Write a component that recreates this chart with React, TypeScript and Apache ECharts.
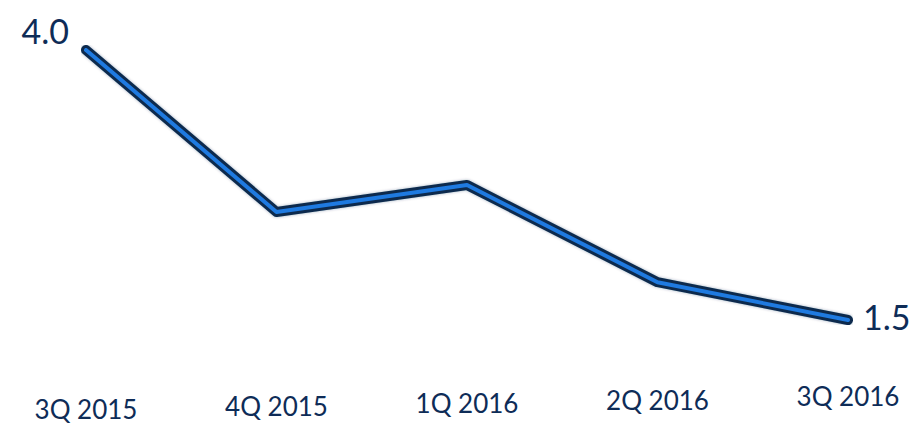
import React, { useEffect, useRef } from "react";
import * as echarts from "echarts";

const categories = ["3Q 2015", "4Q 2015", "1Q 2016", "2Q 2016", "3Q 2016"];
const values = [4.0, 2.5, 2.75, 1.85, 1.5];
const labelOffsets = [26, 20, 14, 7, 0];

export default function App() {
  const ref = useRef<HTMLDivElement>(null);
  useEffect(() => {
    if (!ref.current) return;
    const chart = echarts.init(ref.current, null, { renderer: "svg" });
    const navy = "#0e2c57";
    const font = "Lato, 'Open Sans', sans-serif";
    const rich: Record<string, any> = {};
    labelOffsets.forEach((o, i) => {
      rich["r" + i] = {
        fontSize: 26,
        lineHeight: 26,
        fontFamily: font,
        color: navy,
        padding: [o, 0, 0, 0],
      };
    });
    const last = values.length - 1;
    const labeled = values.map((v, i) => {
      if (i === 0) {
        return {
          value: v,
          label: {
            show: true,
            position: "left",
            offset: [-12, -20],
            formatter: (p: any) => Number(p.value).toFixed(1),
            fontSize: 34,
            fontFamily: font,
            color: navy,
          },
        };
      }
      if (i === last) {
        return {
          value: v,
          label: {
            show: true,
            position: "right",
            offset: [10, -4],
            formatter: (p: any) => Number(p.value).toFixed(1),
            fontSize: 34,
            fontFamily: font,
            color: navy,
          },
        };
      }
      return v;
    });
    chart.setOption({
      animation: false,
      backgroundColor: "#ffffff",
      grid: { left: 86, right: 65, top: 50, bottom: 111 },
      xAxis: {
        type: "category",
        data: categories,
        boundaryGap: false,
        axisLine: { show: false },
        axisTick: { show: false },
        splitLine: { show: false },
        axisLabel: {
          margin: 63,
          verticalAlign: "top",
          formatter: (v: string) => {
            const i = categories.indexOf(v);
            return "{r" + i + "|" + v + "}";
          },
          rich,
        },
      },
      yAxis: {
        type: "value",
        min: 1.5,
        max: 4.0,
        show: false,
        splitLine: { show: false },
      },
      series: [
        {
          type: "line",
          data: values,
          symbol: "none",
          silent: true,
          lineStyle: {
            color: "#0b2a4e",
            width: 10,
            cap: "round",
            join: "round",
            shadowColor: "rgba(11,42,78,0.35)",
            shadowBlur: 3,
          },
          z: 1,
        },
        {
          type: "line",
          data: labeled,
          symbol: "circle",
          symbolSize: 0.1,
          showSymbol: true,
          itemStyle: { color: "rgba(0,0,0,0)" },
          silent: true,
          lineStyle: { color: "#1f7ae0", width: 4, cap: "round", join: "round" },
          z: 2,
        },
      ],
    });
    return () => chart.dispose();
  }, []);
  return <div ref={ref} style={{ width: 913, height: 431, position: "absolute", left: 0, top: 0 }} />;
}
